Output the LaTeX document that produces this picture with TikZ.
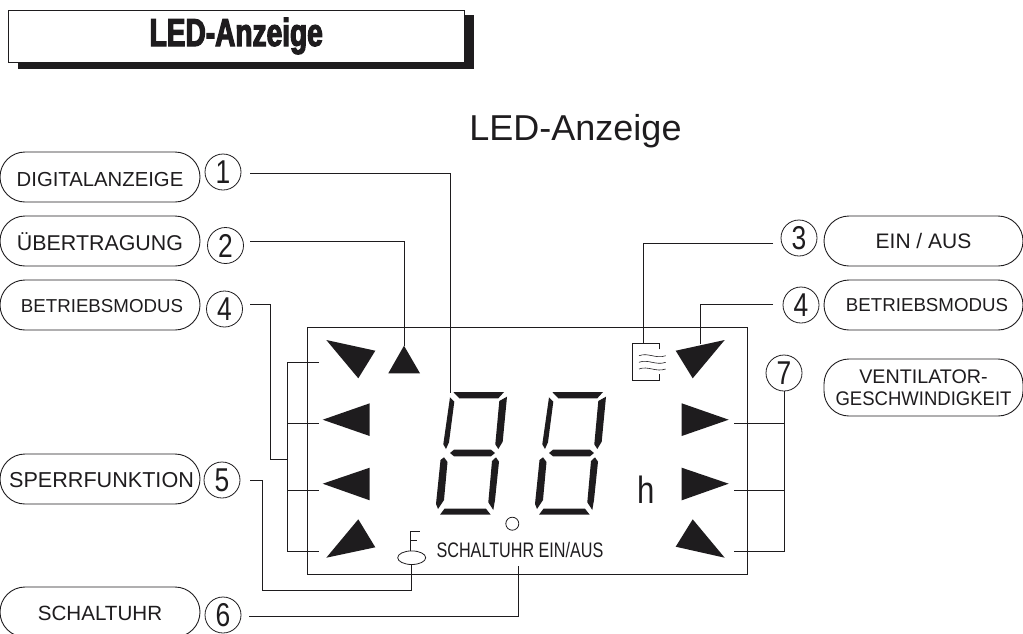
\documentclass[tikz,border=0pt]{standalone}
\usepackage{fontspec}
\usetikzlibrary{shapes.geometric}
\setmainfont{Liberation Sans}
\newfontfamily\titlefont[BoldFeatures={FakeStretch=0.72,FakeBold=3}]{Liberation Sans}
\definecolor{ink}{HTML}{1E1C1E}
\newcommand{\fs}[1]{\fontsize{#1}{22}\selectfont}
\newcommand{\numtxt}[1]{\scalebox{0.8}[1]{\fs{33}#1}}
\newcommand{\sevenseg}{%
  \fill[ink] (453.3,392)--(504,392)--(498.3,398.3)--(459.3,398.3)--cycle;
  \fill[ink] (450,397.3)--(454.3,401.7)--(449,442.3)--(446,449)--(443.3,444.3)--cycle;
  \fill[ink] (507,396.7)--(502.7,441.7)--(498.3,449)--(495.3,444.3)--(499.3,401)--cycle;
  \fill[ink] (450,453)--(454,449.7)--(491,449.7)--(495,453)--(491,456.3)--(454,456.3)--cycle;
  \fill[ink] (444,457.3)--(447.5,462)--(444,500)--(438,509)--(436,504)--(440.5,460)--cycle;
  \fill[ink] (496,457.3)--(499,461.7)--(495,500)--(493.3,510)--(488.3,502.3)--(492,461)--cycle;
  \fill[ink] (440,514.7)--(444.5,508.7)--(486,508.7)--(490.7,514.7)--cycle;
}
\begin{document}
\begin{tikzpicture}[x=1pt,y=-1pt,line width=.9pt,draw=ink,text=ink,
  pill/.style={draw,rounded corners=25pt,minimum height=50pt,inner sep=0pt,text height=14.3pt,text depth=0pt,align=center},
  numc/.style={draw,circle,minimum size=36pt,inner sep=0pt,line width=.8pt},
  wire/.style={line width=.9pt},
  tri/.style={fill=ink,draw=none}]
\useasboundingbox (0,0) rectangle (1023,633);
% heading box
\fill[ink] (18,15) rectangle (474,68.5);
\node[draw,fill=white,minimum width=456pt,minimum height=52pt,inner sep=0pt,line width=.8pt] (head) at (236.2,36) {\titlefont\bfseries\fs{39}\raisebox{-2pt}{LED-Anzeige}};
\node[inner sep=0pt] (sub) at (575.5,131.5) {\fs{36}LED-Anzeige};
% display frame
\node[draw,minimum width=440pt,minimum height=247.7pt,inner sep=0pt] (disp) at (527.7,450.9) {};
% left pills
\node[pill,minimum width=200pt] (p1) at (100,177) {\raisebox{-2pt}{\fs{20.3}DIGITALANZEIGE}};
\node[pill,minimum width=200pt] (p2) at (100,241) {\raisebox{-2pt}{\fs{21.4}ÜBERTRAGUNG}};
\node[pill,minimum width=200pt] (p4) at (100,305) {\hspace*{4pt}\fs{18.7}BETRIEBSMODUS};
\node[pill,minimum width=200pt] (p5) at (100,479) {\hspace*{3pt}\raisebox{-1.5pt}{\fs{21.6}SPERRFUNKTION}};
\node[pill,minimum width=200pt] (p6) at (100,612) {\raisebox{-1pt}{\fs{20.6}SCHALTUHR}};
% right pills
\node[pill,minimum width=199pt] (q3) at (923.5,241) {\fs{21}EIN / AUS};
\node[pill,minimum width=199pt] (q4) at (923.5,305) {\hspace*{7pt}\raisebox{1pt}{\fs{18.7}BETRIEBSMODUS}};
\node[draw,rounded corners=25pt,minimum width=199pt,minimum height=57pt,inner sep=0pt,align=center,font=\fs{19.7}] (q7) at (923.5,387.5) {VENTILATOR-\\\scalebox{0.94}[1]{GESCHWINDIGKEIT}};
% number circles
\node[numc] (n1) at (223,172) {\numtxt{1}};
\node[numc] (n2) at (225.5,245.5) {\numtxt{2}};
\node[numc] (n4) at (224.5,309) {\numtxt{4}};
\node[numc] (n5) at (222,480) {\numtxt{5}};
\node[numc] (n6) at (223,615) {\numtxt{6}};
\node[numc] (m3) at (799,238) {\numtxt{3}};
\node[numc] (m4) at (801,305) {\numtxt{4}};
\node[numc] (m7) at (784,373) {\numtxt{7}};
% symbols
\fill[tri] (326.3,340)--(375.3,350.7)--(358.3,378.3)--cycle;
\fill[tri] (404,345.7)--(420,373.3)--(388.3,373.3)--cycle;
\fill[tri] (322.7,419.7)--(369.7,403.3)--(369.7,436)--cycle;
\fill[tri] (322.7,483.7)--(369.7,467.7)--(369.7,500.3)--cycle;
\fill[tri] (358.3,519.3)--(375.3,547.3)--(326.3,557.7)--cycle;
\fill[tri] (675.7,350.7)--(724.7,340)--(692.7,378.3)--cycle;
\fill[tri] (681.7,403.3)--(728.7,419.7)--(681.7,436)--cycle;
\fill[tri] (681.7,467.7)--(728.7,483.7)--(681.7,500.3)--cycle;
\fill[tri] (692.7,519.3)--(724.7,557.7)--(675.7,546.7)--cycle;
% digits
\sevenseg
\begin{scope}[shift={(99,0)}]\sevenseg\end{scope}
% timer label etc
\node[inner sep=0pt] (lamp) at (512.3,523.7) [draw,circle,minimum size=13pt,line width=.8pt] {};
\node[inner sep=0pt] (timer) at (520,549.5) {\scalebox{0.77}[1]{\fs{21}SCHALTUHR EIN/AUS}};
\node[inner sep=0pt] (hour) at (646.5,489.5) {\scalebox{0.82}[1]{\fs{38}h}};
% key icon
\node[draw,ellipse,minimum width=28pt,minimum height=13.6pt,inner sep=0pt,line width=.8pt] (key) at (411.7,557.7) {};
\draw[line width=.8pt] (410.7,551) -- (410.7,531.3) -- (420,531.3) (410.7,540.7) -- (417,540.7);
% fan icon
\draw[line width=.8pt] (659.3,349.3)--(659.3,343)--(632.3,343)--(632.3,380.7)--(659.3,380.7)--(659.3,374.3);
\foreach \yy in {355.7,362.3,369}
  \draw[line width=.6pt] (639,\yy) .. controls (648,\yy-3.5) and (656,\yy+3.5) .. (665.7,\yy);
% connectors
\coordinate (c1) at (250,173); \coordinate (e1) at (450,393);
\draw[wire] (c1) -| (e1);
\coordinate (c2) at (250,241.5); \coordinate (e2) at (404,346);
\draw[wire] (c2) -| (e2);
\coordinate (c4) at (250,304); \coordinate (j4) at (287.5,459);
\draw[wire] (c4) -- (270,304) |- (j4);
\coordinate (bt) at (319,362); \coordinate (bb) at (319,551);
\draw[wire] (bt) -| (287.5,551) -- (bb);
\draw[wire] (287.5,423) -- (319,423) (287.5,490) -- (319,490);
\coordinate (c5) at (250,480);
\draw[wire] (c5) -- (262,480) |- (411,590) -- (411,564.5);
\coordinate (c6) at (249,616); \coordinate (e6) at (518.5,566);
\draw[wire] (c6) -| (e6);
\coordinate (c3) at (773,243); \coordinate (e3) at (643,343);
\draw[wire] (c3) -| (e3);
\coordinate (d4) at (773,304); \coordinate (e4) at (700,344);
\draw[wire] (d4) -| (e4);
\coordinate (rb) at (734,551.3);
\draw[wire] (m7.south) |- (rb);
\draw[wire] (734,423) -- (784.7,423) (734,490) -- (784.7,490);
\end{tikzpicture}
\end{document}
